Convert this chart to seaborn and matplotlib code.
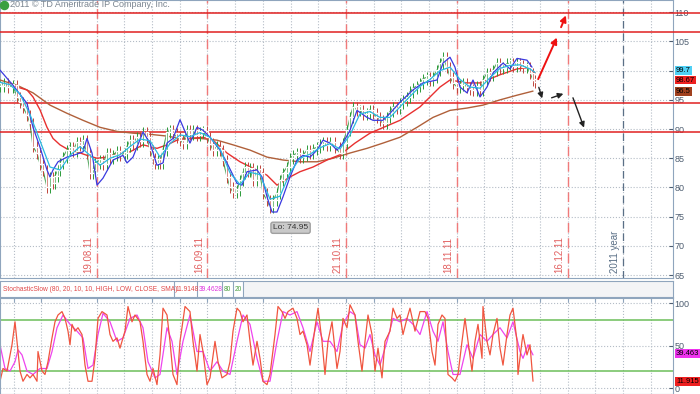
import pandas as pd
import seaborn as sns
import matplotlib.pyplot as plt

# ---------------------------------------------------
# DATA (x is bar position along the chart, price in $)
# ---------------------------------------------------

price_x = [0, 4, 8, 13, 17, 20, 23, 27, 30, 33, 37, 40, 43, 47, 50, 53, 55, 58, 60, 63,
           67, 70, 73, 77, 80, 83, 87, 90, 93, 95, 100, 103, 107, 110, 113, 117, 120, 125, 127, 130,
           133, 137, 140, 143, 147, 150, 153, 155, 158, 160, 163, 167, 170, 173, 177, 180, 183, 187, 190, 193,
           197, 200, 203, 207, 210, 213, 217, 220, 223, 227, 230, 233, 237, 240, 243, 245, 248, 250, 253, 257,
           260, 263, 267, 270, 273, 277, 280, 283, 287, 290, 293, 297, 300, 303, 307, 310, 313, 317, 320, 323,
           327, 330, 335, 340, 343, 347, 350, 353, 357, 360, 363, 367, 370, 373, 377, 380, 383, 387, 390, 393,
           397, 400, 403, 407, 410, 413, 417, 420, 423, 427, 430, 433, 437, 440, 443, 447, 450, 453, 457, 460,
           463, 467, 470, 473, 477, 480, 483, 487, 490, 493, 497, 500, 503, 507, 510, 513, 517, 520, 523, 527,
           530, 533, 535]
price_close = [97.3, 97.8, 97.2, 97.5, 95.5, 94.6, 93.8, 92.4, 91.0, 87.0, 85.9, 84.0, 83.0, 80.0, 81.8, 80.8, 82.0, 83.0, 84.2, 85.2,
               86.4, 86.9, 86.2, 87.8, 87.2, 88.1, 85.9, 82.5, 83.0, 84.2, 84.7, 84.0, 85.9, 85.0, 85.5, 86.2, 85.5, 85.9, 87.0, 88.1,
               87.5, 88.6, 88.0, 89.5, 88.6, 86.4, 85.0, 84.2, 84.6, 84.2, 86.4, 89.5, 89.8, 89.3, 88.6, 88.1, 87.6, 89.8, 89.2, 89.8,
               89.0, 89.5, 89.6, 88.6, 87.5, 86.4, 87.0, 86.4, 84.7, 81.8, 80.0, 79.2, 79.5, 81.2, 82.5, 83.5, 82.8, 83.3, 81.2, 83.0,
               82.5, 79.0, 77.8, 76.6, 77.8, 79.0, 81.2, 82.5, 83.5, 85.0, 85.5, 85.9, 85.2, 85.5, 86.4, 85.9, 86.6, 86.9, 87.4, 87.8,
               87.2, 87.8, 86.9, 85.9, 87.6, 89.8, 92.0, 93.8, 93.3, 93.3, 92.6, 92.7, 93.3, 92.7, 92.0, 91.5, 91.0, 92.0, 93.0, 93.8,
               93.6, 94.5, 94.9, 95.5, 96.4, 97.0, 97.4, 97.9, 98.6, 98.9, 98.4, 98.9, 100.1, 101.3, 102.3, 100.6, 98.9, 97.9, 97.2, 97.5,
               97.8, 97.2, 96.9, 96.7, 97.3, 96.7, 98.4, 99.6, 99.2, 100.1, 101.3, 100.5, 100.6, 101.2, 101.3, 100.8, 101.3, 101.0, 100.6, 100.6,
               99.6, 98.4, 98.0]

cyan_x = [0, 10, 20, 30, 40, 50, 60, 70, 80, 90, 100, 110, 120, 130, 140, 150, 160, 170, 180, 190,
          200, 210, 220, 230, 240, 250, 260, 270, 280, 290, 300, 310, 320, 330, 340, 350, 360, 370, 380, 390,
          400, 410, 420, 430, 440, 450, 460, 470, 480, 490, 500, 510, 520, 530, 535]
cyan_ma = [98.0, 97.6, 96.0, 92.5, 88.0, 83.5, 83.0, 85.5, 87.0, 85.5, 83.8, 85.0, 85.6, 87.0, 88.3, 88.0, 85.2, 87.5, 89.0, 88.7,
           89.4, 88.6, 86.6, 82.5, 80.5, 82.6, 82.2, 78.0, 78.5, 82.5, 85.0, 85.7, 86.8, 87.5, 86.6, 89.0, 92.6, 93.0, 92.0, 92.0,
           93.8, 95.6, 97.3, 98.5, 100.0, 100.6, 98.5, 97.2, 97.0, 98.8, 100.4, 100.9, 101.0, 100.3, 99.7]

blue_x = [0, 13, 27, 33, 40, 47, 50, 53, 58, 67, 75, 83, 87, 92, 97, 103, 113, 123, 127, 133,
          143, 150, 157, 163, 167, 173, 180, 190, 197, 203, 210, 220, 227, 237, 242, 247, 257, 262, 267, 272,
          277, 283, 290, 297, 303, 310, 317, 323, 330, 337, 343, 350, 357, 367, 373, 383, 390, 400, 413, 423,
          437, 443, 450, 455, 460, 467, 473, 480, 487, 493, 503, 510, 517, 527, 532]
blue_ma = [100.1, 97.5, 94.4, 90.3, 86.9, 83.0, 81.8, 83.0, 84.4, 85.2, 85.6, 86.1, 88.4, 85.9, 80.4, 81.6, 84.7, 85.5, 84.2, 85.2,
           89.5, 87.6, 83.8, 84.2, 87.6, 88.4, 91.6, 87.6, 90.3, 89.8, 88.6, 86.4, 84.2, 80.7, 80.4, 82.7, 83.0, 81.8, 78.4, 75.8,
           75.8, 78.4, 81.8, 84.7, 85.5, 85.2, 86.4, 88.1, 87.6, 86.4, 87.6, 89.8, 93.2, 92.0, 91.5, 91.5, 92.7, 94.6, 96.7, 97.9,
           98.4, 101.3, 102.3, 100.6, 97.2, 96.2, 98.4, 95.5, 97.2, 99.6, 101.3, 100.3, 102.1, 101.8, 100.6]

red_x = [0, 17, 27, 33, 40, 47, 53, 60, 67, 77, 87, 97, 107, 117, 130, 143, 157, 167, 177, 190,
         203, 213, 227, 240, 253, 267, 277, 290, 300, 313, 327, 340, 355, 370, 400, 420, 440, 450, 467, 480,
         500, 517, 527, 535]
red_ma = [97.9, 97.2, 96.7, 95.5, 93.3, 90.3, 88.4, 87.3, 86.6, 86.1, 85.5, 85.0, 85.2, 85.9, 86.1, 87.3, 86.7, 87.3, 88.1, 88.4,
          88.6, 88.1, 85.9, 84.4, 83.3, 82.1, 80.4, 81.8, 82.7, 83.5, 84.7, 85.6, 87.6, 89.3, 91.5, 93.8, 97.2, 98.4, 97.9, 97.9,
          99.3, 100.3, 100.5, 99.6]

brown_x = [0, 17, 33, 50, 67, 83, 100, 117, 133, 150, 167, 180, 200, 217, 233, 250, 267, 283, 300, 317,
           333, 350, 367, 383, 400, 417, 433, 450, 467, 483, 500, 517, 533]
brown_ma = [98.4, 97.5, 96.2, 94.1, 92.7, 91.5, 90.3, 89.6, 89.3, 89.1, 88.8, 88.4, 88.4, 88.1, 87.3, 86.4, 85.2, 84.7, 84.4, 84.4,
            85.0, 85.9, 86.7, 87.6, 88.6, 90.3, 92.0, 93.2, 93.6, 94.1, 95.0, 95.8, 96.5]

levels = [109.8, 106.6, 94.4, 89.5]

date_x = [96.6, 207.4, 345.9, 456.7, 567.5]
date_labels = ['19.08.11', '16.09.11', '21.10.11', '18.11.11', '16.12.11']
year_x = 622.9

# StochasticSlow %K
k_x = [0, 3, 7, 12, 15, 17, 20, 23, 27, 30,
       33, 37, 38, 42, 45, 48, 52, 55, 58, 62,
       65, 68, 70, 72, 75, 78, 82, 85, 88, 92,
       95, 98, 102, 107, 110, 113, 117, 120, 125, 128,
       132, 135, 140, 143, 147, 150, 153, 157, 160, 163,
       167, 170, 173, 177, 180, 185, 190, 193, 197, 200,
       203, 207, 210, 215, 218, 222, 227, 230, 233, 237,
       240, 243, 247, 250, 253, 257, 260, 263, 267, 270,
       275, 278, 282, 285, 288, 293, 297, 300, 303, 307,
       310, 315, 318, 322, 325, 328, 332, 337, 340, 343,
       347, 350, 355, 358, 362, 365, 368, 372, 375, 378,
       382, 385, 390, 393, 397, 400, 403, 407, 410, 415,
       420, 425, 428, 432, 435, 438, 442, 445, 448, 452,
       455, 458, 462, 465, 468, 472, 475, 478, 482, 483,
       487, 490, 493, 497, 500, 503, 507, 510, 513, 517,
       518, 522, 523, 527, 530, 533]
k_vals = [8, 23, 20, 51, 78, 55, 20, 8, 16, 12,
          16, 8, 43, 20, 16, 31, 59, 78, 86, 90,
          82, 67, 51, 75, 67, 71, 63, 27, 8, 8,
          35, 82, 90, 86, 63, 55, 59, 47, 67, 96,
          78, 86, 78, 55, 16, 8, 23, 4, 39, 94,
          86, 55, 16, 4, 55, 96, 90, 55, 20, 63,
          43, 4, 12, 55, 31, 12, 16, 31, 67, 94,
          90, 78, 86, 55, 27, 55, 35, 8, 4, 16,
          63, 96, 90, 82, 90, 94, 82, 63, 67, 51,
          27, 71, 94, 55, 16, 55, 78, 23, 43, 82,
          71, 98, 86, 55, 20, 55, 86, 63, 20, 47,
          12, 55, 67, 94, 82, 86, 63, 82, 94, 67,
          90, 90, 82, 43, 27, 75, 86, 82, 16, 12,
          8, 16, 55, 82, 55, 20, 55, 75, 35, 96,
          55, 39, 63, 82, 47, 27, 63, 86, 94, 55,
          16, 55, 63, 39, 51, 8]

# StochasticSlow %D
d_x = [0, 5, 10, 15, 18, 22, 27, 33, 40, 47, 52, 57, 63, 70, 77, 83, 88, 93, 98, 103,
       110, 117, 123, 130, 137, 143, 148, 155, 160, 167, 172, 177, 183, 190, 197, 203, 210, 217, 223, 230,
       237, 243, 250, 257, 263, 270, 277, 283, 290, 297, 303, 310, 317, 323, 330, 337, 343, 350, 355, 360,
       365, 370, 375, 380, 387, 393, 400, 407, 413, 420, 427, 433, 438, 443, 448, 453, 460, 467, 473, 480,
       487, 493, 500, 507, 513, 520, 523, 528, 533]
d_vals = [51, 23, 20, 31, 45, 39, 20, 16, 23, 23, 43, 71, 86, 75, 67, 59, 23, 27, 63, 88,
          78, 55, 59, 82, 86, 71, 31, 12, 16, 71, 55, 16, 55, 86, 43, 43, 20, 31, 20, 16,
          55, 86, 75, 35, 8, 8, 55, 90, 86, 90, 71, 43, 78, 55, 55, 43, 75, 90, 86, 51,
          47, 63, 39, 27, 55, 82, 78, 82, 75, 63, 90, 67, 55, 78, 43, 16, 16, 51, 35, 63,
          55, 63, 71, 59, 78, 43, 35, 51, 39]

# ---------------------------------------------------
# FIGURE LAYOUT
# ---------------------------------------------------

sns.set_style('white')
plt.rcParams['font.family'] = ['Liberation Sans', 'DejaVu Sans']

W, H = 700, 394
fig = plt.figure(figsize=(7, 3.94), dpi=100)
fig.patch.set_facecolor('white')
right = 673 / W
ax = fig.add_axes([0, 1 - 278 / H, right, 278 / H])
hdr = fig.add_axes([0, 1 - 297 / H, right, 16 / H])
ax2 = fig.add_axes([0, 0, right, 96 / H])

frame = '#8fa5bd'
grid_c = '#b4bcc6'
label_c = '#4d5d70'
grid_x = [13.5 + 27.7 * k for k in range(24)]

# ---------------------------------------------------
# MAIN PRICE PANEL
# ---------------------------------------------------

ax.set_xlim(0, 673)
ax.set_ylim(64.5, 112.1)
ax.set_xticks(grid_x)
ax.set_xticklabels([])
ax.set_yticks([65, 70, 75, 80, 85, 90, 95, 100, 105, 110])
ax.set_yticklabels(['65', '70', '75', '80', '85', '90', '95', '', '105', '110'])
ax.yaxis.tick_right()
ax.tick_params(axis='y', labelsize=6.5, colors=label_c, length=3, pad=1, direction='in')
ax.tick_params(axis='x', length=3, direction='in', colors=frame)
ax.grid(True, linestyle=':', color=grid_c, linewidth=0.8)
for s in ax.spines.values():
    s.set_color(frame)

for x in date_x:
    ax.axvline(x, color='#f07a7a', linestyle=(0, (7, 4)), linewidth=1)
ax.axvline(year_x, color='#5a6f86', linestyle=(0, (6, 4)), linewidth=0.9)
for x, lab in zip(date_x, date_labels):
    ax.text(x - 3, 65.3, lab, rotation=90, fontsize=7, color='#e26060',
            ha='right', va='bottom')
ax.text(year_x - 3, 65.3, '2011 year', rotation=90, fontsize=7, color='#5a6f86',
        ha='right', va='bottom')

for lvl in levels:
    ax.plot([0, 700], [lvl, lvl], color='#e02020', linewidth=1.1, clip_on=False, zorder=3)

# moving averages
sns.lineplot(x=brown_x, y=brown_ma, ax=ax, color='#b0603a', linewidth=1.0, zorder=4)
sns.lineplot(x=red_x, y=red_ma, ax=ax, color='#e83030', linewidth=1.0, zorder=4)

# candles: open is the previous close
candles = pd.DataFrame({'x': price_x, 'close': price_close})
candles['open'] = candles['close'].shift(1).fillna(candles['close'])
sns.lineplot(data=candles, x='x', y='close', ax=ax, color='#3c9a48', linewidth=0.8, zorder=5)
for _, r in candles.iterrows():
    up = r['close'] >= r['open']
    lo, hi = sorted([r['open'], r['close']])
    col = '#2a9a38' if up else '#c0443a'
    ax.vlines(r['x'], lo - 1.0, hi + 0.9, color=col, linewidth=0.7, zorder=5)
    ax.bar(r['x'], max(hi - lo, 0.6), bottom=lo, width=2.8, color=col, zorder=5)

sns.lineplot(x=blue_x, y=blue_ma, ax=ax, color='#3a3ae0', linewidth=0.9, zorder=6)
sns.lineplot(x=cyan_x, y=cyan_ma, ax=ax, color='#2ab8e0', linewidth=0.9, zorder=6)

# value tags on the price axis
tags = [(100.1, '99.7', '#4fd0f5'), (98.4, '98.67', '#ee2020'), (96.5, '96.5', '#a0401e')]
for y, txt, fc in tags:
    ax.text(676, y, txt, fontsize=5.5, color='black', va='center', ha='left', clip_on=False,
            bbox=dict(boxstyle='square,pad=0.12', facecolor=fc, edgecolor='none'), zorder=8)

# scenario arrows
red_arrow = dict(arrowstyle='-|>', color='#ee1111', linewidth=1.4, mutation_scale=9)
blk_arrow = dict(arrowstyle='-|>', color='#222222', linewidth=1.0, mutation_scale=8)
ax.annotate('', xy=(558, 106.1), xytext=(537, 98.1), arrowprops=red_arrow)
ax.annotate('', xy=(567, 109.9), xytext=(560, 107.0), arrowprops=red_arrow)
ax.annotate('', xy=(543, 94.8), xytext=(538, 97.6), arrowprops=blk_arrow)
ax.annotate('', xy=(566, 96.2), xytext=(549, 95.2), arrowprops=blk_arrow)
ax.annotate('', xy=(585, 89.8), xytext=(572, 95.8), arrowprops=blk_arrow)

ax.text(273, 73.1, 'Lo: 74.95', fontsize=6, color='#333333', ha='left', va='center',
        bbox=dict(boxstyle='round,pad=0.25', facecolor='#c9c9c9', edgecolor='#a0a0a0'))
ax.text(10, 111.3, '2011 © TD Ameritrade IP Company, Inc.', fontsize=6.5, color='#7a8590',
        ha='left', va='center')
ax.scatter([4], [111.3], s=34, color='#3aa040', zorder=8)

# ---------------------------------------------------
# STOCHASTIC HEADER STRIP
# ---------------------------------------------------

hdr.set_xlim(0, 673)
hdr.set_ylim(0, 1)
hdr.set_xticks([])
hdr.set_yticks([])
hdr.set_facecolor('#f3f4f6')
for s in hdr.spines.values():
    s.set_color(frame)
hdr.axvspan(0, 243, color='white', zorder=0)
hdr.text(3, 0.45, 'StochasticSlow (80, 20, 10, 10, HIGH, LOW, CLOSE, SMA)', fontsize=4.8,
         color='#e04848', va='center')
for x0, txt, col in [(176, '11.9148', '#e04848'), (199, '39.4628', '#dd33dd'),
                     (224, '80', '#4aa040'), (234.5, '20', '#4aa040')]:
    hdr.text(x0, 0.45, txt, fontsize=4.8, color=col, va='center')
for xs in [174, 197, 222, 232.5, 243]:
    hdr.axvline(xs, color=frame, linewidth=0.8)

# ---------------------------------------------------
# STOCHASTIC PANEL
# ---------------------------------------------------

ax2.set_xlim(0, 673)
ax2.set_ylim(-7, 106)
ax2.set_xticks(grid_x)
ax2.set_xticklabels([])
ax2.set_yticks([0, 50, 100])
ax2.yaxis.tick_right()
ax2.tick_params(axis='y', labelsize=6.5, colors=label_c, length=3, pad=1, direction='in')
ax2.tick_params(axis='x', length=3, direction='in', colors=frame, top=True, bottom=False)
ax2.grid(True, linestyle=':', color=grid_c, linewidth=0.8)
for s in ax2.spines.values():
    s.set_color(frame)

ax2.axhline(80, color='#6cbf5a', linewidth=1.1)
ax2.axhline(20, color='#6cbf5a', linewidth=1.1)
sns.lineplot(x=d_x, y=d_vals, ax=ax2, color='#ee44ee', linewidth=0.9)
sns.lineplot(x=k_x, y=k_vals, ax=ax2, color='#f0553f', linewidth=0.9)
ax2.set_xlabel('')
ax2.set_ylabel('')
ax.set_xlabel('')
ax.set_ylabel('')

ax2.text(676, 41, '39.463', fontsize=5.5, color='black', va='center', ha='left', clip_on=False,
         bbox=dict(boxstyle='square,pad=0.12', facecolor='#ee33ee', edgecolor='none'))
ax2.text(676, 8, '11.915', fontsize=5.5, color='black', va='center', ha='left', clip_on=False,
         bbox=dict(boxstyle='square,pad=0.12', facecolor='#ee2020', edgecolor='none'))

plt.savefig('out.png', dpi=100)
